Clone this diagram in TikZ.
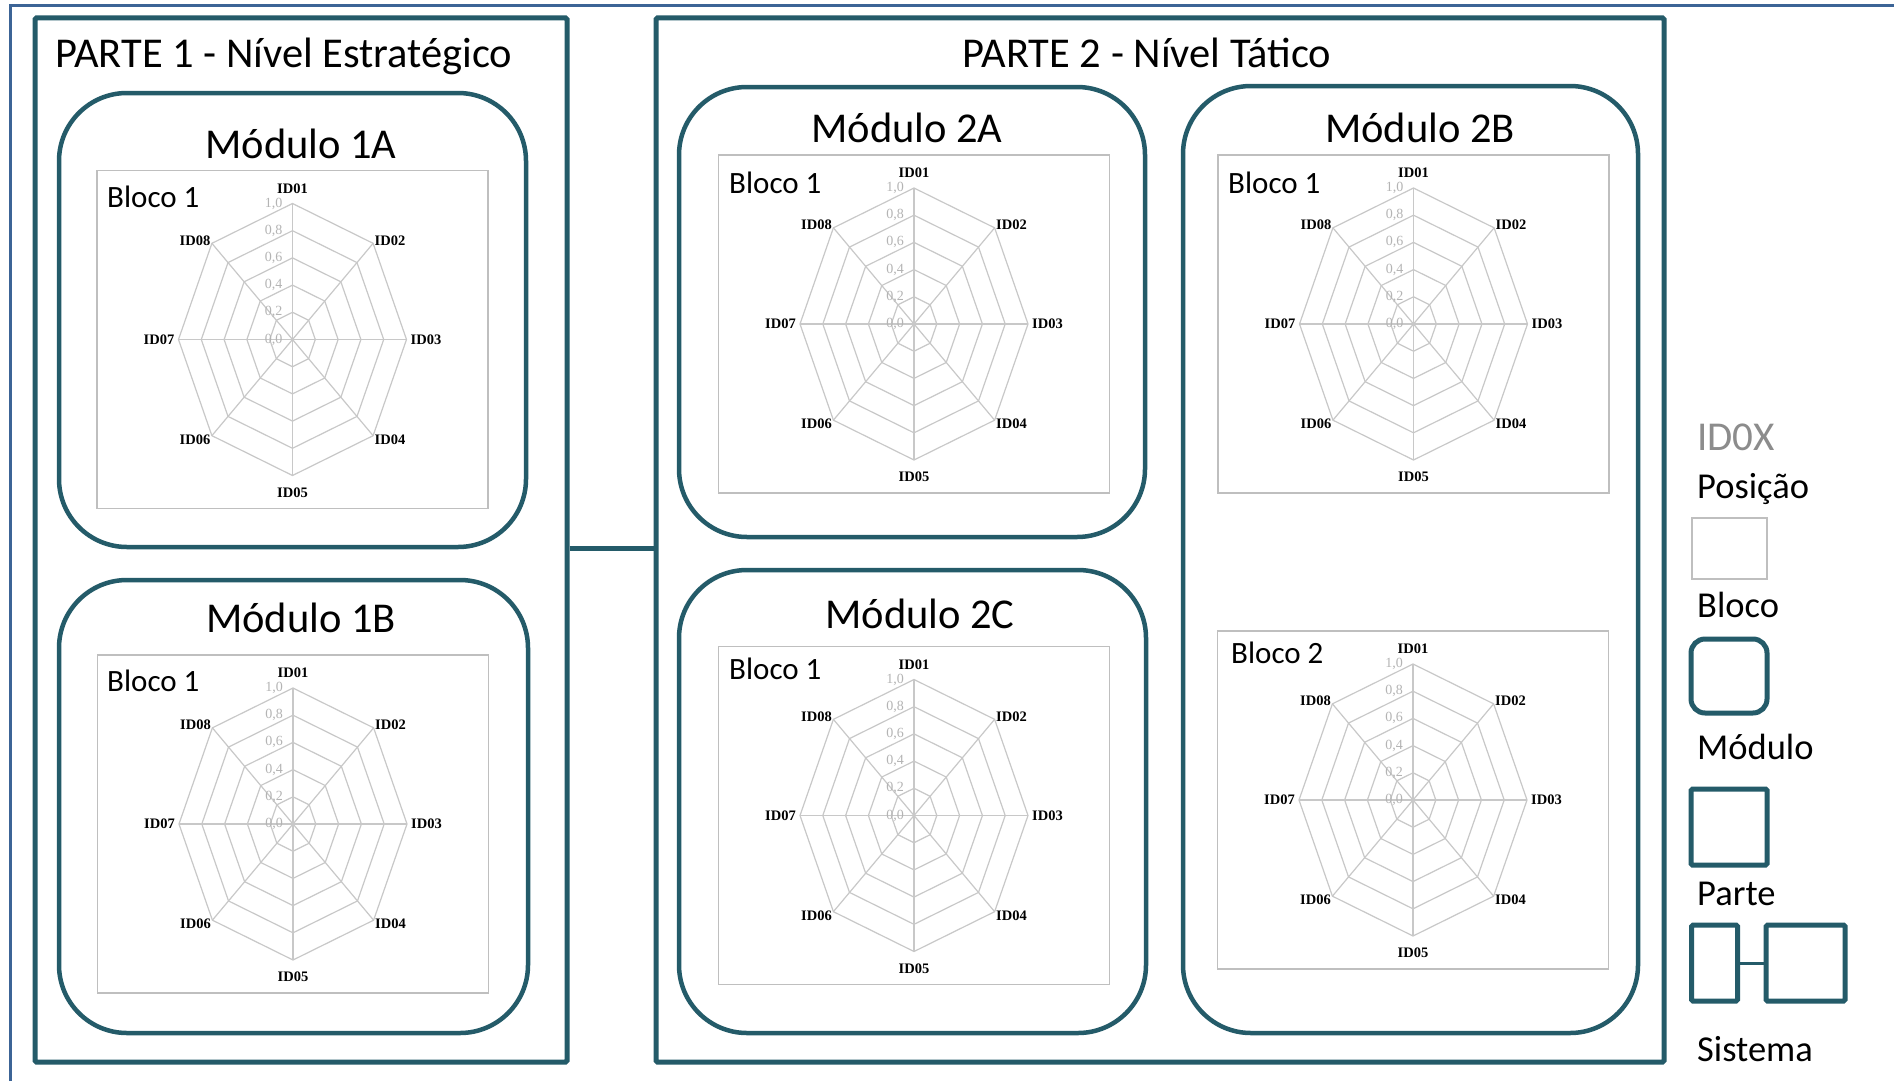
\documentclass[tikz,border=0pt]{standalone}
\usepackage{fontspec}
\setmainfont{Carlito}
\newfontfamily\tnr{Liberation Serif}
\definecolor{tealc}{RGB}{36,91,105}
\definecolor{outerc}{RGB}{60,100,150}
\definecolor{blockc}{RGB}{191,191,191}
\definecolor{gridc}{RGB}{200,200,200}
\definecolor{scalec}{RGB}{180,180,180}
\definecolor{idxc}{RGB}{140,140,140}
\tikzset{
  partbox/.style={draw=tealc, line width=5pt, rectangle, rounded corners=1.5pt, inner sep=0pt},
  modbox/.style={draw=tealc, line width=4.5pt, rectangle, rounded corners=68pt, inner sep=0pt},
  blockbox/.style={draw=blockc, line width=1.8pt, rectangle, inner sep=0pt, minimum width=391pt, minimum height=338pt},
  gridl/.style={draw=gridc, line width=1.2pt},
  idlab/.style={font=\tnr\bfseries\fontsize{14.5}{14.5}\selectfont, inner sep=1pt},
  scalelab/.style={font=\tnr\fontsize{14}{14}\selectfont, text=scalec, inner sep=1pt, anchor=east},
  titletext/.style={font=\fontsize{42.5}{42.5}\selectfont, inner sep=0pt, anchor=base},
  blocktitle/.style={font=\fontsize{31}{31}\selectfont, inner sep=0pt, anchor=base west},
  legtext/.style={font=\fontsize{36.5}{36.5}\selectfont, inner sep=0pt, anchor=base west},
  conn/.style={draw=tealc, line width=5pt},
  radar/.pic={
    \foreach \k in {1,...,5}{
      \draw[gridl] plot[samples at={90,45,0,-45,-90,-135,-180,-225}] ({\k*22.8*cos(\x)},{-\k*27.2*sin(\x)}) -- cycle;
    }
    \foreach \a in {90,45,...,-225}{
      \draw[gridl] (0,0) -- ({114*cos(\a)},{-136*sin(\a)});
    }
    \foreach \k/\t in {0/{0,0},1/{0,2},2/{0,4},3/{0,6},4/{0,8},5/{1,0}}{
      \node[scalelab] (-s\k) at (-9,{-\k*27.2}) {\t};
    }
    \node[idlab, anchor=south] (-l1) at (0,-145) {ID01};
    \node[idlab, anchor=west] (-l2) at (81,-99) {ID02};
    \node[idlab, anchor=west] (-l3) at (117,0) {ID03};
    \node[idlab, anchor=west] (-l4) at (81,100) {ID04};
    \node[idlab, anchor=north] (-l5) at (0,147) {ID05};
    \node[idlab, anchor=east] (-l6) at (-81,100) {ID06};
    \node[idlab, anchor=east] (-l7) at (-117,0) {ID07};
    \node[idlab, anchor=east] (-l8) at (-81,-99) {ID08};
  }
}
\begin{document}
\begin{tikzpicture}[x=1pt,y=-1pt]
\useasboundingbox (0,0) rectangle (1894,1081);
\fill[white] (0,0) rectangle (1894,1081);
% outer system frame
\draw[draw=outerc, line width=3pt] (10,1081) -- (10,6) -- (1894,6);

% parts
\node[partbox, minimum width=532pt, minimum height=1044pt] (p1) at (301,540) {};
\node[partbox, minimum width=1008pt, minimum height=1044pt] (p2) at (1160,540) {};
\draw[conn] ([yshift=-8pt]p1.east) -- ([yshift=-8pt]p2.west);
\node[titletext, anchor=base west] (p1t) at (55,67) {PARTE 1 - Nível Estratégico};
\node[titletext] (p2t) at (1147,67) {PARTE 2 - Nível Tático};

% modules
\node[modbox, minimum width=467pt, minimum height=454pt] (m1a) at (292.5,320) {};
\node[modbox, minimum width=469pt, minimum height=453pt] (m1b) at (293.5,806.5) {};
\node[modbox, minimum width=466pt, minimum height=450pt] (m2a) at (912,312) {};
\node[modbox, minimum width=467pt, minimum height=463pt] (m2c) at (912.5,801.5) {};
\node[modbox, minimum width=455pt, minimum height=947pt] (m2b) at (1410.5,559.5) {};
\node[titletext] (m1at) at (301,158) {Módulo 1A};
\node[titletext] (m1bt) at (301,632) {Módulo 1B};
\node[titletext] (m2at) at (907,142) {Módulo 2A};
\node[titletext] (m2bt) at (1420,142) {Módulo 2B};
\node[titletext] (m2ct) at (920,628) {Módulo 2C};

% blocks
\node[blockbox] (b1a) at (292.5,339.5) {};
\node[blockbox] (b1b) at (293,824) {};
\node[blockbox] (b2a) at (914,324) {};
\node[blockbox] (b2c) at (914,815.5) {};
\node[blockbox] (b2b1) at (1413.5,324) {};
\node[blockbox] (b2b2) at (1413,800) {};
\node[blocktitle] (b1at) at (107,207) {Bloco 1};
\node[blocktitle] (b1bt) at (107,691) {Bloco 1};
\node[blocktitle] (b2at) at (729,193) {Bloco 1};
\node[blocktitle] (b2ct) at (729,679) {Bloco 1};
\node[blocktitle] (b2b1t) at (1228,193) {Bloco 1};
\node[blocktitle] (b2b2t) at (1231,663) {Bloco 2};

% radar charts
\pic (r1a) at (b1a.center) {radar};
\pic (r1b) at (b1b.center) {radar};
\pic (r2a) at (b2a.center) {radar};
\pic (r2c) at (b2c.center) {radar};
\pic (r2b1) at (b2b1.center) {radar};
\pic (r2b2) at (b2b2.center) {radar};

% legend
\node[legtext, text=idxc, font=\fontsize{41}{41}\selectfont] (lg1) at (1697,450) {ID0X};
\node[legtext] (lg2) at (1697,498) {Posição};
\node[draw=blockc, line width=1.8pt, minimum width=75pt, minimum height=61pt, inner sep=0pt] (lgb) at (1729.5,548.5) {};
\node[legtext] (lg3) at (1697,617) {Bloco};
\node[draw=tealc, line width=5pt, rounded corners=14pt, minimum width=76pt, minimum height=74pt, inner sep=0pt] (lgm) at (1729,676) {};
\node[legtext] (lg4) at (1697,759) {Módulo};
\node[partbox, minimum width=76pt, minimum height=76pt] (lgp) at (1729,827) {};
\node[legtext] (lg5) at (1697,905) {Parte};
\node[partbox, minimum width=46pt, minimum height=76pt] (lgs1) at (1714.5,963) {};
\node[partbox, minimum width=79pt, minimum height=76pt] (lgs2) at (1805.5,963) {};
\draw[draw=tealc, line width=3pt] (lgs1.east) -- (lgs2.west);
\node[legtext] (lg6) at (1697,1061) {Sistema};
\end{tikzpicture}
\end{document}
